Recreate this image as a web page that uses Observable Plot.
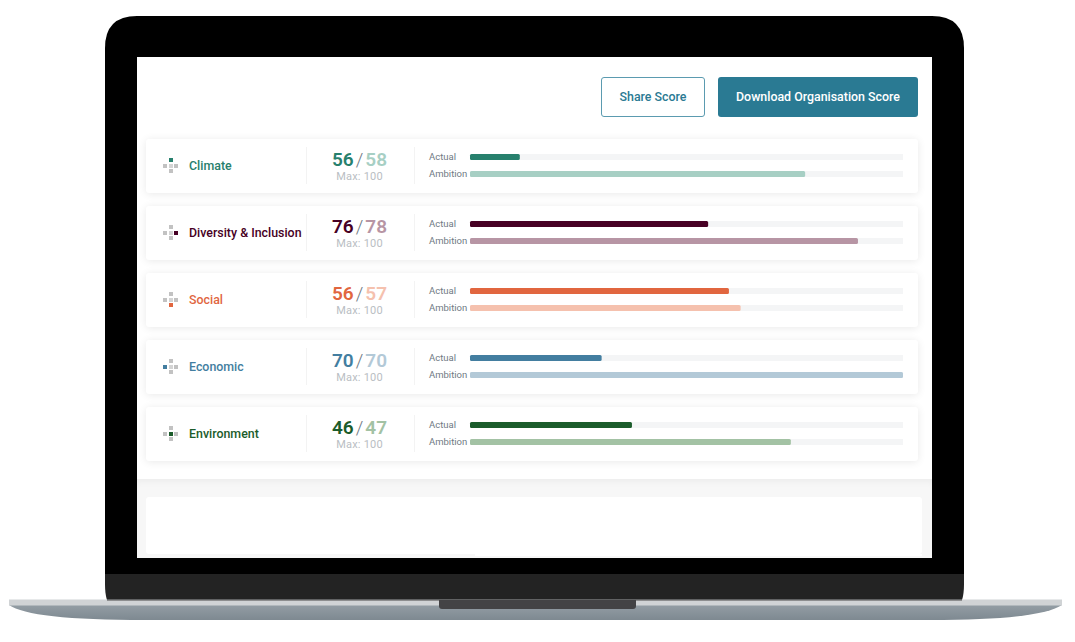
<!DOCTYPE html>
<html>
<head>
<meta charset="utf-8">
<script src="https://cdn.jsdelivr.net/npm/d3@7"></script>
<script src="https://cdn.jsdelivr.net/npm/@observablehq/plot@0.6"></script>
<style>
html,body{margin:0;padding:0;background:#fff;overflow:hidden}
#page{position:relative;width:1075px;height:642px;font-family:Roboto,sans-serif;overflow:hidden}
#page>*{position:absolute}
#frame{left:0;top:0}
#screen{left:137px;top:57px;width:795px;height:501px;background:#fff;overflow:hidden}
#grayband{position:absolute;left:0;top:422px;width:795px;height:79px;background:#f7f7f7;box-shadow:inset 0 6px 7px -3px rgba(0,0,0,.045)}
#lowercard{position:absolute;left:9px;top:18px;width:776px;height:57px;background:#fff;border-radius:3px}
#lowerstrip{position:absolute;left:338px;top:75px;width:447px;height:2px;background:#fff}
.btn{box-sizing:border-box;height:40px;top:77px;padding-bottom:1px;border-radius:3px;font-size:12.4px;font-weight:500;display:flex;align-items:center;justify-content:center}
#share{left:601px;width:104px;border:1px solid #5b9bb0;color:#2a7a93;background:#fff}
#download{left:718px;width:200px;background:#2a7a93;color:#fff}
.card{left:146px;width:772px;height:54px;background:#fff;border-radius:3px;box-shadow:0 1px 8px rgba(0,0,0,.09)}
.card>*{position:absolute}
.div{width:1px;top:8px;height:37px;background:#f3f3f3}
.name{left:43px;top:0;height:53px;line-height:53px;font-size:12.4px;font-weight:500;white-space:nowrap}
.score{left:160px;width:107px;top:8px;text-align:center;font-size:19px;font-weight:600;line-height:25px;white-space:nowrap}
.score .sl{color:#6f7a84;font-weight:300;margin:0 2px}
.max{left:160px;width:107px;top:31px;text-align:center;font-size:11px;line-height:14px;color:#b9bec3;letter-spacing:.2px}
.sq{width:4px;height:4px;background:#c2c2c2}
</style>
</head>
<body>
<div id="page">
<svg id="frame" width="1075" height="642" viewBox="0 0 1075 642">
  <defs><linearGradient id="base" x1="0" y1="0" x2="0" y2="1"><stop offset="0" stop-color="#939da4"/><stop offset="1" stop-color="#7e8991"/></linearGradient></defs>
  <path d="M105 574 V48 Q105 16 137 16 H932 Q964 16 964 48 V574 Z" fill="#000"/>
  <path d="M105 574 H964 V584 Q964 594 962 600 H107 Q105 594 105 584 Z" fill="#232323"/>
  <path d="M9 605 H1062 Q1040 620 930 620 H145 Q30 620 9 605 Z" fill="url(#base)"/>
  <rect x="9" y="599.5" width="1053" height="6" fill="#d0d3d5"/>
  <rect x="107" y="599.5" width="855" height="1" fill="#4a4a4a"/>
  <path d="M439 600 H636 V606 Q636 609 633 609 H442 Q439 609 439 606 Z" fill="#434345"/>
</svg>
<div id="screen"><div id="grayband"><div id="lowercard"></div><div id="lowerstrip"></div></div></div>
<div class="btn" id="share">Share Score</div>
<div class="btn" id="download">Download Organisation Score</div>
</div>
<script>
const categories = ["Climate", "Diversity & Inclusion", "Social", "Economic", "Environment"];
const seriesNames = ["Actual", "Ambition"];
const actualBars = [11.5, 55, 59.8, 30.4, 37.4];
const ambitionBars = [77.4, 89.6, 62.5, 100, 74.1];
const actualScores = [56, 76, 56, 70, 46];
const ambitionScores = [58, 78, 57, 70, 47];
const maxScore = 100;
const actualColors = ["#27806d", "#470024", "#e1663f", "#437ea0", "#1b5c2b"];
const ambitionColors = ["#a7cfc4", "#b795a4", "#f5c1ae", "#b3c9d7", "#a3c2a4"];
const iconSlots = [[1,0],[2,1],[1,2],[0,1],[1,1]];

const page = document.getElementById("page");
categories.forEach((c, i) => {
  const card = document.createElement("div");
  card.className = "card";
  card.style.top = (139 + 67 * i) + "px";
  const cross = [[1,0],[0,1],[1,1],[2,1],[1,2]].map(([a,b]) => {
    const on = iconSlots[i][0] === a && iconSlots[i][1] === b;
    return `<div class="sq" style="position:absolute;left:${17 + a * 5.5}px;top:${19 + b * 5.5}px;${on ? "background:" + actualColors[i] : (a === 1 && b === 1 ? "background:#d4d4d4" : "")}"></div>`;
  }).join("");
  card.innerHTML = cross +
    `<div class="name" style="color:${actualColors[i]}"></div>` +
    `<div class="div" style="left:160px"></div><div class="div" style="left:268px"></div>` +
    `<div class="score"><span style="color:${actualColors[i]}">${actualScores[i]}</span><span class="sl">/</span><span style="color:${ambitionColors[i]}">${ambitionScores[i]}</span></div>` +
    `<div class="max">Max: ${maxScore}</div>`;
  card.querySelector(".name").textContent = c;
  page.appendChild(card);
});

const rows = categories.flatMap((c, i) => [
  {category: c, series: "Actual", value: actualBars[i], color: actualColors[i]},
  {category: c, series: "Ambition", value: ambitionBars[i], color: ambitionColors[i]}
]);

const chart = Plot.plot({
  width: 1075, height: 642,
  marginLeft: 470, marginRight: 172, marginTop: 148.5, marginBottom: 191.5,
  style: {background: "transparent", fontFamily: "Roboto, sans-serif", overflow: "visible"},
  x: {domain: [0, 100], axis: null},
  y: {domain: seriesNames, axis: null, padding: 0, round: false},
  fy: {domain: categories, axis: null, paddingInner: 0.4925, paddingOuter: 0, round: false},
  marks: [
    Plot.barX(rows, {x1: () => 0, x2: () => maxScore, y: "series", fy: "category", fill: "#f4f5f6", insetTop: 5.5, insetBottom: 5.5}),
    Plot.barX(rows, {x1: () => 0, x2: "value", y: "series", fy: "category", fill: "color", insetTop: 5.5, insetBottom: 5.5, rx: 1.5}),
    Plot.text(rows, {x: () => 0, y: "series", fy: "category", text: "series", textAnchor: "start", dx: -41.5, dy: -1, fontSize: 9.5, fill: "#6f7a84", letterSpacing: 0.2})
  ]
});
chart.style.left = "0";
chart.style.top = "0";
page.appendChild(chart);
</script>
</body>
</html>
